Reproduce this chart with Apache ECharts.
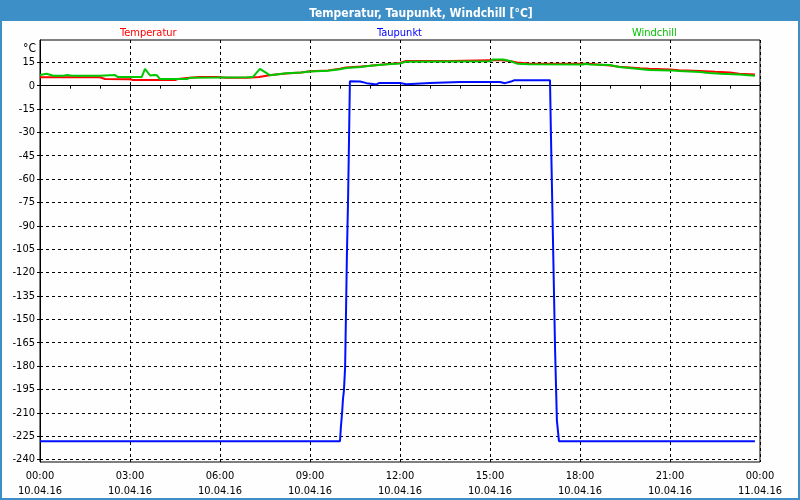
<!DOCTYPE html>
<html><head><meta charset="utf-8">
<script src="https://cdn.jsdelivr.net/npm/echarts@6/dist/echarts.min.js"></script>
<style>html,body{margin:0;padding:0;background:#fdfefd}#c{width:800px;height:500px}</style>
</head><body><div id="c"></div>
<script>
// time in hours since 10.04.16 00:00
const tempTimes  = [0,2.0,2.17,3.0,3.1,4.5,4.6,4.9,5.3,5.9,6.2,6.9,7.3,7.7,8.2,8.7,9.0,9.6,10.0,10.2,10.7,11.0,11.6,12.0,12.2,13.7,15.0,15.4,15.7,15.9,16.3,18.1,18.3,19.0,19.3,20.0,20.3,21.0,21.3,22.0,22.5,23.0,23.3,23.83];
const tempValues = [5.4,5.4,4.3,4.1,3.6,3.6,4.2,4.9,5.5,5.5,5.0,5.0,5.6,6.8,7.8,8.4,9.2,9.8,10.8,11.6,12.3,12.8,13.9,14.5,15.8,15.8,16.3,16.3,15.6,14.8,14.2,14.1,14.0,13.0,12.2,11.2,10.9,10.3,9.9,9.4,8.9,8.5,7.6,7.2];

const dewTimes  = [0,10.0,10.03,10.07,10.1,10.13,10.17,10.2,10.23,10.27,10.3,10.33,10.67,10.89,11.22,11.3,12.0,12.22,13.0,14.0,15.33,15.5,15.7,15.8,17.0,17.03,17.1,17.17,17.23,17.3,23.83];
const dewValues = [-228.3,-228.3,-219,-210,-201,-196,-181,-146,-109,-72,-35,2.8,2.6,1.6,0.8,1.7,1.7,0.9,1.7,2.3,2.3,1.6,2.6,3.4,3.4,-30,-100,-170,-215,-228.3,-228.3];

const chillTimes  = [0,0.22,0.44,0.8,0.9,1.06,2.0,2.05,2.5,2.6,3.39,3.5,3.67,3.8,3.9,4.0,4.9,5.0,5.9,6.9,7.1,7.33,7.67,8.2,8.7,9.0,9.6,10.0,10.2,10.7,11.0,11.6,12.0,12.2,15.0,15.1,15.44,15.7,15.9,16.3,18.1,18.2,18.33,19.0,19.3,19.9,20.3,21.0,21.3,22.0,22.3,22.7,23.3,23.83];
const chillValues = [6.8,7.6,6.4,6.4,6.9,6.3,6.3,6.8,6.8,5.5,5.5,10.8,6.5,6.8,6.6,4.2,4.2,5.1,5.2,5.4,5.6,10.8,6.6,7.9,8.4,9.1,9.6,10.5,11.3,12.0,12.8,13.7,14.2,15.4,15.6,16.8,16.8,15.6,14.1,13.7,13.6,14.0,13.6,13.3,12.0,10.8,10.1,9.8,9.4,8.7,8.1,7.6,7.2,6.4];

const seriesNames = ['Temperatur','Taupunkt','Windchill'];
const xTickHours  = [0,3,6,9,12,15,18,21,24];
const xTickLabels = ['00:00\n10.04.16','03:00\n10.04.16','06:00\n10.04.16','09:00\n10.04.16','12:00\n10.04.16','15:00\n10.04.16','18:00\n10.04.16','21:00\n10.04.16','00:00\n11.04.16'];
const yTickValues = [-240,-225,-210,-195,-180,-165,-150,-135,-120,-105,-90,-75,-60,-45,-30,-15,0,15];

const zip = (a,b) => a.map((t,i)=>[t,b[i]]);
const FONT = "'DejaVu Sans Condensed','Liberation Sans',sans-serif";
const dash = [3,3];

const chart = echarts.init(document.getElementById('c'), null, {renderer:'canvas'});
chart.setOption({
  animation:false,
  backgroundColor:'#fdfefd',
  textStyle:{fontFamily:FONT},
  title:{text:'Temperatur, Taupunkt, Windchill [°C]', left:416, top:3, textAlign:'center',
    textStyle:{color:'#ffffff', fontWeight:'bold', fontSize:12, fontFamily:FONT}},
  graphic:[
    {type:'rect', z:-1, shape:{x:1,y:1,width:798,height:498}, style:{fill:null, stroke:'#3c8fc7', lineWidth:2}},
    {type:'rect', z:-1, shape:{x:0,y:0,width:800,height:21}, style:{fill:'#3c8fc7'}}
  ],
  legend:[
    {data:[seriesNames[0]], left:110, top:21, icon:'none', itemWidth:0, itemHeight:14, selectedMode:false, textStyle:{color:'#ff0000', fontSize:11, fontFamily:FONT}},
    {data:[seriesNames[1]], left:367, top:21, icon:'none', itemWidth:0, itemHeight:14, selectedMode:false, textStyle:{color:'#0000ff', fontSize:11, fontFamily:FONT}},
    {data:[seriesNames[2]], left:622, top:21, icon:'none', itemWidth:0, itemHeight:14, selectedMode:false, textStyle:{color:'#00c000', fontSize:11, fontFamily:FONT}}
  ],
  grid:{left:40, right:40, top:40, bottom:38, show:true, borderColor:'#000', borderWidth:1, backgroundColor:'transparent'},
  xAxis:{
    type:'value', min:0, max:24, interval:3,
    axisLine:{lineStyle:{color:'#000', width:1}},
    axisTick:{show:true, length:3, lineStyle:{color:'#000'}},
    minorTick:{show:true, splitNumber:3, length:3, lineStyle:{color:'#000'}},
    splitLine:{show:true, lineStyle:{color:'#000', type:dash, width:1}},
    axisLabel:{color:'#000', fontSize:11, lineHeight:15, margin:7, fontFamily:FONT, showMaxLabel:true, showMinLabel:true,
      formatter:v=>{const i=xTickHours.indexOf(v); return i>=0?xTickLabels[i]:'';}}
  },
  yAxis:{
    type:'value', min:-241.6, max:29.3,
    name:'°C', nameLocation:'end', nameGap:-9,
    nameTextStyle:{color:'#000', fontSize:12, align:'right', verticalAlign:'middle', padding:[0,4,0,0], fontFamily:FONT},
    axisLine:{show:true, lineStyle:{color:'#000', width:1}},
    axisTick:{show:true, length:3, customValues:yTickValues, lineStyle:{color:'#000'}},
    splitLine:{show:true, lineStyle:{color:'#000', type:dash, width:1}},
    axisLabel:{color:'#000', fontSize:11, margin:5, customValues:yTickValues, fontFamily:FONT}
  },
  series:[
    {name:seriesNames[0], type:'line', showSymbol:false, color:'#ff0000', lineStyle:{width:2, color:'#ff0000'}, data:zip(tempTimes,tempValues), z:2},
    {name:seriesNames[1], type:'line', showSymbol:false, color:'#0010ff', lineStyle:{width:2, color:'#0010ff'}, data:zip(dewTimes,dewValues), z:3},
    {name:seriesNames[2], type:'line', showSymbol:false, color:'#00c800', lineStyle:{width:2, color:'#00c800'}, data:zip(chillTimes,chillValues), z:4}
  ]
});
</script></body></html>
